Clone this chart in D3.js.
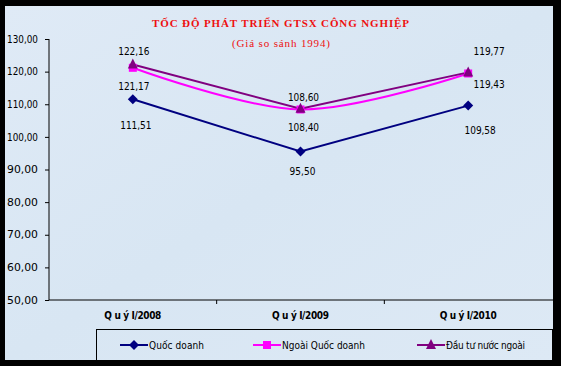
<!DOCTYPE html>
<html><head><meta charset="utf-8">
<script src="https://cdn.jsdelivr.net/npm/d3@7"></script>
<style>body{margin:0;background:#000;}svg{display:block;}</style>
</head><body>
<script>
const categories = ["Q u ý I/2008", "Q u ý I/2009", "Q u ý I/2010"];
const seriesNames = ["Quốc doanh", "Ngoài Quốc doanh", "Đầu tư nước ngoài"];
const quocDoanh = [111.51, 95.50, 109.58];
const ngoaiQuocDoanh = [121.17, 108.40, 119.43];
const dauTuNuocNgoai = [122.16, 108.60, 119.77];
const yTicks = [50, 60, 70, 80, 90, 100, 110, 120, 130];
const title = "TỐC ĐỘ PHÁT TRIỂN GTSX CÔNG NGHIỆP";
const subtitle = "(Giá so sánh 1994)";

const W = 561, H = 366;
const svg = d3.select("body").append("svg").attr("width", W).attr("height", H);
const font = "'Liberation Sans Narrow','DejaVu Sans Condensed','Liberation Sans',sans-serif";

svg.append("rect").attr("width", W).attr("height", H).attr("fill", "#000");
const defs = svg.append("defs");
const grad = defs.append("linearGradient").attr("id", "bg").attr("x1", 0).attr("y1", 0).attr("x2", 1).attr("y2", 1);
grad.append("stop").attr("offset", "0").attr("stop-color", "#dfeaf6");
grad.append("stop").attr("offset", "0.5").attr("stop-color", "#d8e6f3");
grad.append("stop").attr("offset", "1").attr("stop-color", "#dde9f5");
svg.append("rect").attr("x", 5).attr("y", 6).attr("width", 548).attr("height", 354).attr("fill", "url(#bg)");

const x = d3.scaleBand().domain(categories).range([49, 552]);
const y = d3.scaleLinear().domain([50, 130]).range([300, 39]);

// title
svg.append("text").attr("x", 152).attr("y", 27).attr("textLength", 257).attr("lengthAdjust", "spacing")
  .attr("font-family", "'Liberation Serif',serif").attr("font-size", 11).attr("font-weight", "bold").attr("fill", "#ee1010").text(title);
svg.append("text").attr("x", 232).attr("y", 47).attr("textLength", 98).attr("lengthAdjust", "spacing")
  .attr("font-family", "'Liberation Serif',serif").attr("font-size", 11).attr("fill", "#ee1010").text(subtitle);

// y axis
const yAxis = svg.append("g").attr("transform", "translate(49,0)")
  .call(d3.axisLeft(y).tickValues(yTicks).tickSize(4).tickFormat(d => d3.format(".2f")(d).replace(".", ",")));
yAxis.select(".domain").attr("stroke", "#000").attr("d", "M0,39V300");
yAxis.selectAll(".tick line").attr("stroke", "#000");
yAxis.selectAll(".tick text").attr("x", -11).attr("font-family", font).attr("font-size", 10).attr("fill", "#000")
  .attr("textLength", 31).attr("lengthAdjust", "spacingAndGlyphs");

// x axis
const xAxis = svg.append("g").attr("transform", "translate(0,300)")
  .call(d3.axisBottom(x).tickSize(0).tickFormat(d => d));
xAxis.select(".domain").attr("stroke", "#000").attr("d", "M49,0H553");
xAxis.selectAll(".tick text").attr("y", 12).attr("font-family", font).attr("font-size", 10).attr("fill", "#000")
  .attr("font-weight", "bold").attr("textLength", 57).attr("lengthAdjust", "spacing");
categories.slice(1).forEach(c => {
  svg.append("line").attr("x1", x(c)).attr("x2", x(c)).attr("y1", 300).attr("y2", 304).attr("stroke", "#000");
});

const series = [
  {name: seriesNames[0], values: quocDoanh, color: "#000080", marker: "diamond", curve: d3.curveLinear,
   labelDx: [3, 2, 12], labelDy: [26, 19, 24]},
  {name: seriesNames[1], values: ngoaiQuocDoanh, color: "#ff00ff", marker: "square", curve: d3.curveCatmullRom.alpha(0.5),
   labelDx: [1, 3, 21], labelDy: [18, 18, 11]},
  {name: seriesNames[2], values: dauTuNuocNgoai, color: "#800080", marker: "triangle", curve: d3.curveLinear,
   labelDx: [1, 3, 21], labelDy: [-14, -12, -21]}
];

function drawMarker(g, type, cx, cy, color) {
  if (type === "diamond") g.append("path").attr("d", `M${cx},${cy-5}L${cx+5},${cy}L${cx},${cy+5}L${cx-5},${cy}Z`).attr("fill", color);
  else if (type === "square") g.append("rect").attr("x", cx-4).attr("y", cy-4).attr("width", 8).attr("height", 8).attr("fill", color);
  else g.append("path").attr("d", `M${cx},${cy-6}L${cx+5},${cy+4}L${cx-5},${cy+4}Z`).attr("fill", color);
}

const cx = c => x(c) + x.bandwidth() / 2;
series.forEach(s => {
  const line = d3.line().x((d, i) => cx(categories[i])).y(d => y(d)).curve(s.curve);
  svg.append("path").datum(s.values).attr("d", line).attr("fill", "none").attr("stroke", s.color).attr("stroke-width", 2);
});
series.forEach(s => {
  const g = svg.append("g");
  s.values.forEach((v, i) => drawMarker(g, s.marker, cx(categories[i]), y(v), s.color));
});
series.forEach(s => {
  s.values.forEach((v, i) => {
    const t = d3.format(".2f")(v).replace(".", ",");
    svg.append("text").attr("x", cx(categories[i]) + s.labelDx[i]).attr("y", y(v) + s.labelDy[i] + 4)
      .attr("text-anchor", "middle").attr("font-family", font).attr("font-size", 10).attr("fill", "#000")
      .attr("textLength", t.length * 5.2).attr("lengthAdjust", "spacing")
      .text(t);
  });
});

// legend
svg.append("rect").attr("x", 96.5).attr("y", 329.5).attr("width", 456).attr("height", 40).attr("fill", "none").attr("stroke", "#000");
const legX = [120, 253, 417];
const legW = [55, 83, 79];
series.forEach((s, i) => {
  const g = svg.append("g");
  g.append("line").attr("x1", legX[i]).attr("x2", legX[i] + 28).attr("y1", 345).attr("y2", 345).attr("stroke", s.color).attr("stroke-width", 2);
  drawMarker(g, s.marker, legX[i] + 14, 345, s.color);
  g.append("text").attr("x", legX[i] + 29).attr("y", 349).attr("font-family", font).attr("font-size", 10).attr("fill", "#000")
    .attr("textLength", legW[i]).attr("lengthAdjust", "spacing").text(s.name);
});
svg.append("rect").attr("x", 0).attr("y", 360).attr("width", W).attr("height", 6).attr("fill", "#000");
</script>
</body></html>
